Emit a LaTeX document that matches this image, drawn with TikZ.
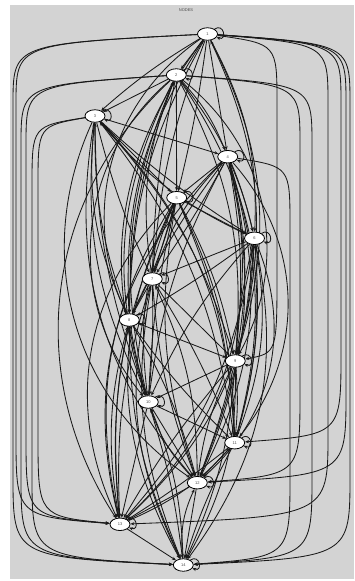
\documentclass[tikz,border=0pt]{standalone}
\usepackage{fontspec}
\setmainfont{Liberation Sans}
\usetikzlibrary{shapes.geometric,arrows.meta}
\definecolor{bggray}{RGB}{211,211,211}
\pgfdeclarelayer{back}
\pgfdeclarelayer{edges}
\pgfsetlayers{back,edges,main}
\tikzset{
  vtx/.style={ellipse,draw=black,line width=0.8pt,fill=white,minimum width=20pt,minimum height=12.5pt,inner sep=0pt,font=\fontsize{4}{4}\selectfont,text=black!70},
  edge/.style={-{Stealth[length=4pt,width=3.2pt]},line width=0.85pt,black!90},
  selfloop/.style={edge,out=35,in=-20,looseness=3.5,min distance=3pt}
}
\begin{document}
\begin{tikzpicture}[x=1pt,y=-1pt]
\useasboundingbox (0,0) rectangle (354,581);
\begin{pgfonlayer}{back}
\fill[bggray] (10,5) rectangle (354,579);
\end{pgfonlayer}
\node[font=\fontsize{4}{4}\selectfont,text=black!70] (title) at (186,10) {NODES};
\foreach \n/\x/\y in {1/207.5/34,2/176.3/75,3/95/116,4/227.7/156.7,5/176.7/197.7,6/254.5/238.3,7/152.3/279,8/129.3/320,9/235.3/361,10/148.3/402,11/234.7/442.7,12/197.3/482.7,13/120/524.3,14/183.3/565}
  \node[vtx] (n\n) at (\x,\y) {\n};
\begin{pgfonlayer}{edges}
% short and medium edges
\foreach \i/\j/\b in {
 1/2/0,2/3/0,3/4/0,4/5/0,5/6/0,6/7/0,7/8/0,8/9/0,9/10/0,10/11/0,11/12/0,12/13/0,13/14/0,
 1/3/-5,2/4/10,3/5/0,4/6/5,5/7/0,6/8/3,7/9/0,8/10/-3,9/11/5,10/12/0,11/13/3,12/14/0,
 1/4/0,2/5/0,3/6/-5,4/7/3,5/8/6,6/9/-5,7/10/3,8/11/-5,9/12/3,10/13/0,11/14/-5,
 1/5/3,2/6/12,3/7/-5,4/8/-6,5/9/8,6/10/-8,7/11/5,8/12/8,9/13/-5,10/14/5,
 1/6/15,2/7/-5,3/8/-10,4/9/8,5/10/-5,6/11/10,7/12/-8,8/13/-8,9/14/10,
 1/7/-8,2/8/-10,3/9/12,4/10/-10,5/11/12,6/12/8,7/13/-10,8/14/-12,
 1/8/-14,2/9/16,3/10/-16,4/11/16,5/12/-14,6/13/16,7/14/-16,
 1/9/22,2/10/-22,3/11/20,4/12/22,5/13/-22,6/14/24,
 1/10/-28,3/12/-25,4/13/30,5/14/-28,2/11/25,
 2/13/-40,4/13/-30,5/13/-35,3/12/-40,2/10/-45,1/8/-40,4/11/40,6/12/35,2/9/40}
  \draw[edge] (n\i) to[bend left=\b] (n\j);
% reverse edges
\foreach \i/\j/\b in {
 14/12/15,13/11/-12,12/10/12,14/9/-15,13/8/12,12/7/-12,11/6/-15,10/5/15,
 9/4/-12,8/3/15,7/2/15,13/5/15,11/3/-15,10/2/18,9/1/-20,12/4/-18,
 14/7/20,13/6/-22,8/1/18,7/4/12,10/3/10,11/5/-10,14/10/-10,12/9/10,6/3/12}
  \draw[edge] (n\i) to[bend left=\b] (n\j);
% long side routes
\foreach \i/\j/\X/\yi/\yj in {
 1/14/13/34/565, 1/13/16/34/524.3, 2/14/21/75/565, 2/13/26/75/524.3, 3/14/32/116/565, 3/13/38/116/524.3,
 1/14/350/34/565, 1/12/346/34/482.7, 1/11/341/34/442.7, 1/13/328/34/524.3, 2/14/312/75/565, 2/12/300/75/482.7, 1/9/277/34/361, 4/14/290/156.7/565}
  \draw[edge] (n\i) .. controls (\X,\yi+10) .. (\X,\yi+70) -- (\X,\yj-90) .. controls (\X,\yj-8) .. (n\j);
% self loops
\foreach \n in {1,...,14}
  \draw[selfloop] (n\n) to (n\n);
\end{pgfonlayer}
\end{tikzpicture}
\end{document}
